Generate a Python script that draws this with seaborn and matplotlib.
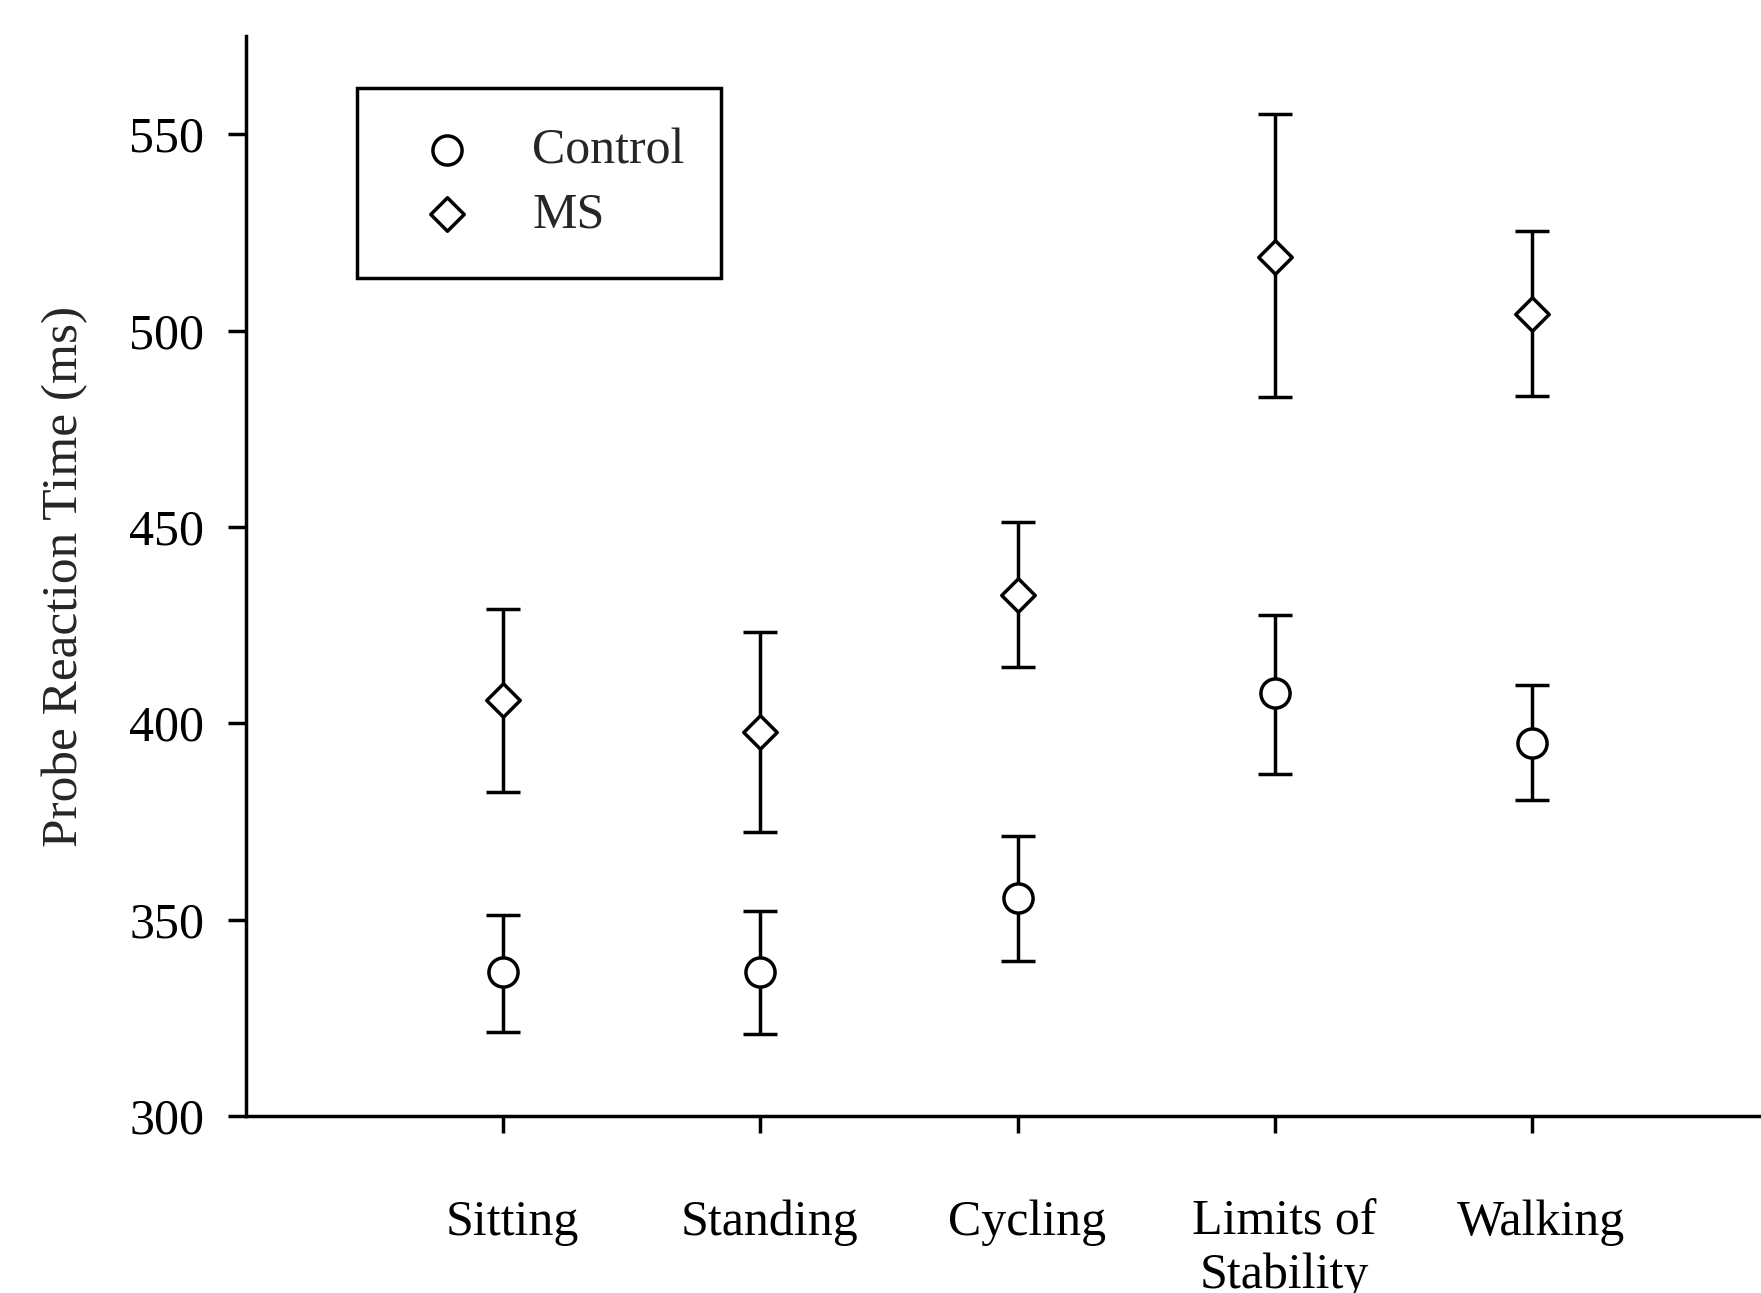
import numpy as np
import pandas as pd
import matplotlib
matplotlib.use('Agg')
import matplotlib.pyplot as plt
import matplotlib.transforms as mtransforms
import seaborn as sns

# values (ms)
conditions = ['Sitting', 'Standing', 'Cycling', 'Limits of\nStability', 'Walking']
groups = ['Control', 'MS']

control_mean = [336.6, 336.6, 355.5, 407.6, 395.0]
control_low = [321.5, 320.9, 339.5, 387.2, 380.4]
control_high = [351.2, 352.3, 371.2, 427.6, 409.8]

ms_mean = [405.8, 397.8, 432.7, 518.8, 504.2]
ms_low = [382.4, 372.4, 414.4, 483.1, 483.4]
ms_high = [429.0, 423.3, 451.3, 555.1, 525.4]

yticks = [300, 350, 400, 450, 500, 550]

sns.set_style('ticks')
plt.rcParams['font.family'] = ['Liberation Serif', 'DejaVu Serif']

df = pd.DataFrame({
    'condition': conditions * 2,
    'group': [groups[0]] * 5 + [groups[1]] * 5,
    'rt': control_mean + ms_mean,
    'low': control_low + ms_low,
    'high': control_high + ms_high,
})

fig = plt.figure(figsize=(17.61, 12.93), dpi=100)
ax = fig.add_axes([0.1397, 0.1369, 0.8603, 0.8353])

markers = {'Control': 'o', 'MS': 'D'}
sizes = {'Control': 440, 'MS': 290}
lw = 2.5

for g in groups:
    sub = df[df['group'] == g]
    pos = np.arange(len(sub))
    ax.errorbar(pos, sub['rt'],
                yerr=[sub['rt'] - sub['low'], sub['high'] - sub['rt']],
                fmt='none', ecolor='black', elinewidth=lw,
                capsize=12.5, capthick=lw, zorder=2)
    sns.scatterplot(x=sub['condition'], y=sub['rt'], marker=markers[g],
                    s=sizes[g], color='white', edgecolor='black',
                    linewidth=lw, zorder=3, label=g, ax=ax)

ax.set_xlim(-1, 4.89)
ax.set_ylim(300, 575)
ax.set_yticks(yticks)
ax.set_xlabel('')
ax.set_ylabel('Probe Reaction Time (ms)', fontsize=37)
ax.yaxis.set_label_coords(-0.104, 0.5)

sns.despine(ax=ax)
for s in ['left', 'bottom']:
    ax.spines[s].set_linewidth(lw)
    ax.spines[s].set_color('black')

ax.tick_params(axis='y', length=13, width=lw, pad=17, labelsize=36, colors='black')
ax.tick_params(axis='x', length=12, width=lw, pad=48, labelsize=36, colors='black')
# labels in the original sit a little right of their ticks
shift = mtransforms.ScaledTranslation(9 / 100, 0, fig.dpi_scale_trans)
for lbl in ax.get_xticklabels():
    lbl.set_linespacing(1.2)
    lbl.set_transform(lbl.get_transform() + shift)

leg = ax.legend(loc='upper left', bbox_to_anchor=(0.0733, 0.7815, 0.2402, 0.1704),
                mode='expand', fontsize=36, frameon=True, fancybox=False,
                borderaxespad=0, borderpad=0.8, handlelength=2.0,
                handletextpad=0.7, labelspacing=0.35, scatterpoints=1)
leg.get_frame().set_edgecolor('black')
leg.get_frame().set_linewidth(lw)
leg.get_frame().set_alpha(1)

fig.savefig('out.png', dpi=100)
